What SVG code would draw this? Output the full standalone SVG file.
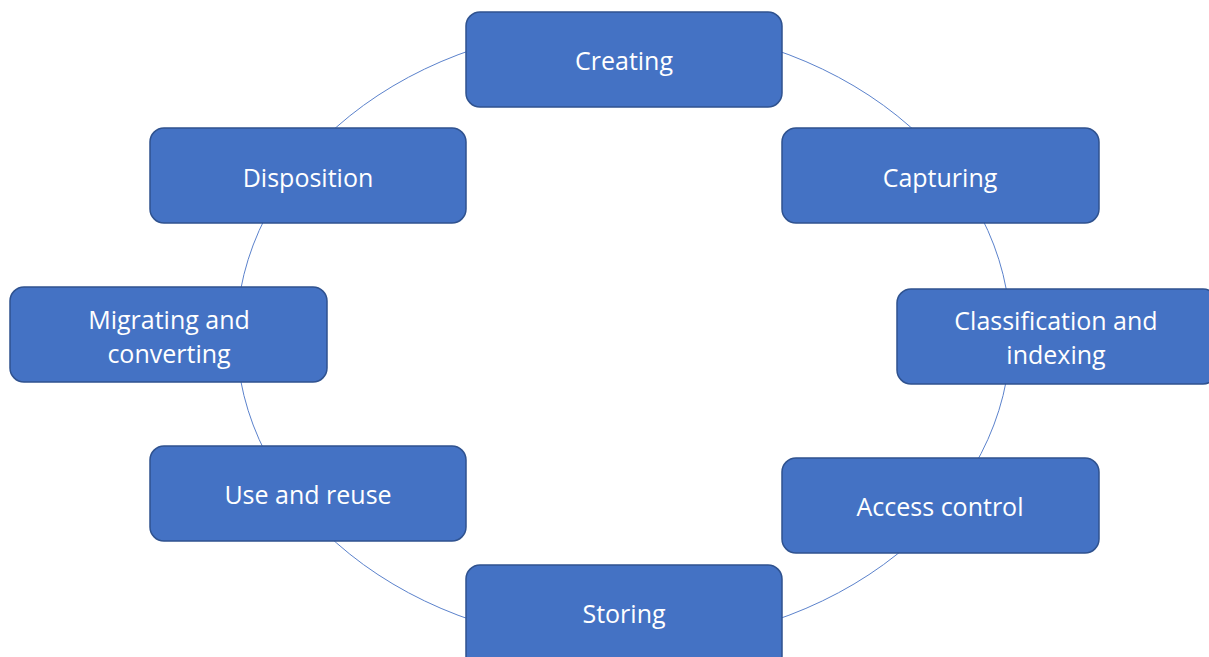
<svg xmlns="http://www.w3.org/2000/svg" width="1209" height="657" viewBox="0 0 1209 657">
<style>
.box{fill:#4472C4;stroke:#2F528F;stroke-width:1.5}
.lbl{fill:#FFFFFF;font-family:"Open Sans","Noto Sans",sans-serif;font-size:25px;text-anchor:middle;dominant-baseline:central}
.ring{fill:none;stroke:#5B82CC;stroke-width:1}
</style>
<rect width="1209" height="657" fill="#FFFFFF"/>
<g id="connectors">
<ellipse class="ring" cx="623.5" cy="335" rx="387" ry="310"/>
</g>
<g id="creating"><rect class="box" x="466" y="12" width="316" height="95" rx="14"/><text class="lbl" x="624" y="60">Creating</text></g>
<g id="capturing"><rect class="box" x="782" y="128" width="317" height="95" rx="14"/><text class="lbl" x="940" y="177">Capturing</text></g>
<g id="classification"><rect class="box" x="897" y="289" width="320" height="95" rx="14"/><text class="lbl" x="1056" y="320">Classification and</text><text class="lbl" x="1056" y="354">indexing</text></g>
<g id="access"><rect class="box" x="782" y="458" width="317" height="95" rx="14"/><text class="lbl" x="940" y="506">Access control</text></g>
<g id="storing"><rect class="box" x="466" y="565" width="316" height="105" rx="14"/><text class="lbl" x="624" y="613">Storing</text></g>
<g id="use"><rect class="box" x="150" y="446" width="316" height="95" rx="14"/><text class="lbl" x="308" y="494">Use and reuse</text></g>
<g id="migrating"><rect class="box" x="10" y="287" width="317" height="95" rx="14"/><text class="lbl" x="169" y="319">Migrating and</text><text class="lbl" x="169" y="353">converting</text></g>
<g id="disposition"><rect class="box" x="150" y="128" width="316" height="95" rx="14"/><text class="lbl" x="308" y="177">Disposition</text></g>
</svg>
